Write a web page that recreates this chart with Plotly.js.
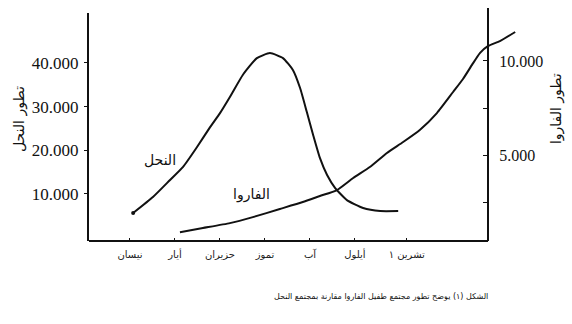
<!DOCTYPE html>
<html>
<head>
<meta charset="utf-8">
<script src="https://cdn.plot.ly/plotly-3.0.1.min.js"></script>
<style>html,body{margin:0;padding:0;background:#fff;}#chart{width:572px;height:324px;}</style>
</head>
<body>
<div id="chart"></div>
<script>
// Month labels (April .. October), placed at month index 0..6
const months = ["نيسان", "أيار", "حزيران", "تموز", "آب", "أيلول", "تشرين ١"];
const monthIdx = [0, 1, 2, 3, 4, 5, 6.15];

// Bee colony (left axis), x in months from April
const beeX = [0.07, 0.51, 0.89, 1.18, 1.49, 1.78, 2.0, 2.22, 2.51, 2.82, 3.11, 3.4, 3.62, 3.78, 3.93, 4.07, 4.22, 4.38, 4.56, 4.82, 5.18, 5.56, 5.96];
const beeY = [5650, 9300, 13200, 16200, 20750, 25300, 28500, 32200, 37300, 41100, 42250, 41100, 38400, 34250, 28750, 23500, 18250, 14350, 11350, 8600, 6800, 6100, 6100];

// Varroa population (right axis)
const varX = [1.11, 1.62, 2.22, 2.73, 3.33, 3.84, 4.22, 4.6, 4.96, 5.33, 5.71, 6.07, 6.44, 6.82, 7.18, 7.4, 7.6, 7.78, 7.96, 8.22, 8.56];
const varY = [900, 1120, 1380, 1700, 2130, 2500, 2820, 3140, 3780, 4360, 5110, 5690, 6330, 7230, 8350, 9040, 9790, 10430, 10800, 11060, 11540];

// Axis ticks
const beeTicks = [10000, 20000, 30000, 40000];
const beeTickText = ["10.000", "20.000", "30.000", "40.000"];
const varTicks = [2500, 5000, 7500, 10000];
const varTickText = ["", "5.000", "", "10.000"];

const RIGHT_AXIS_POS = 0.9258;
const ar = "DejaVu Sans, Noto Sans, sans-serif";
const serif = "Liberation Serif, DejaVu Serif, serif";

const traces = [
  {x: beeX, y: beeY, type: "scatter", mode: "lines", line: {color: "#111", width: 2, shape: "spline", smoothing: 0.5}, yaxis: "y", hoverinfo: "skip"},
  {x: varX, y: varY, type: "scatter", mode: "lines", line: {color: "#111", width: 2, shape: "spline", smoothing: 0.5}, yaxis: "y2", hoverinfo: "skip"},
  {x: beeX.slice(0, 1), y: beeY.slice(0, 1), type: "scatter", mode: "markers", marker: {color: "#111", size: 4}, yaxis: "y", hoverinfo: "skip"}
];

const layout = {
  width: 572, height: 324,
  margin: {l: 89, r: 52, t: 13, b: 83},
  paper_bgcolor: "#fff", plot_bgcolor: "rgba(0,0,0,0)",
  showlegend: false,
  xaxis: {
    range: [-0.911, 8.667], showline: false, showgrid: false, zeroline: false,
    tickvals: monthIdx, ticktext: months, ticks: "inside", ticklen: 3, tickcolor: "#111",
    ticklabelstandoff: 6,
    tickfont: {family: ar, size: 10, color: "#222"}, fixedrange: true
  },
  yaxis: {
    range: [-760, 51430], showline: true, linecolor: "#111", linewidth: 2, mirror: false,
    showgrid: false, zeroline: false, tickvals: beeTicks, ticktext: beeTickText,
    ticks: "outside", ticklen: 3, tickcolor: "#111", ticklabelstandoff: 2,
    tickfont: {family: serif, size: 17, color: "#111"}
  },
  yaxis2: {
    range: [430, 12550], overlaying: "y", side: "right", anchor: "free", position: RIGHT_AXIS_POS,
    showline: true, linecolor: "#111", linewidth: 2, showgrid: false, zeroline: false,
    tickvals: varTicks, ticktext: varTickText, ticks: "inside", ticklen: 4, tickcolor: "#111",
    ticklabelstandoff: 7, tickfont: {family: serif, size: 16, color: "#111"}
  },
  shapes: [
    {type: "line", xref: "paper", yref: "paper", x0: 0, x1: RIGHT_AXIS_POS, y0: 0, y1: 0, line: {color: "#111", width: 2}},
    {type: "line", xref: "paper", yref: "paper", x0: RIGHT_AXIS_POS, x1: RIGHT_AXIS_POS, y0: 0.99, y1: 1.022, line: {color: "#111", width: 2}}
  ],
  annotations: [
    {text: "النحل", xref: "paper", yref: "paper", x: 0.1647, y: 0.355, xanchor: "center", yanchor: "middle", showarrow: false, font: {family: ar, size: 14, color: "#111"}},
    {text: "الفاروا", xref: "paper", yref: "paper", x: 0.378, y: 0.206, xanchor: "center", yanchor: "middle", showarrow: false, font: {family: ar, size: 14, color: "#111"}},
    {text: "تطور النحل", xref: "paper", yref: "paper", x: -0.1624, y: 0.535, xanchor: "center", yanchor: "middle", textangle: -90, showarrow: false, font: {family: ar, size: 14, color: "#111"}},
    {text: "تطور الفاروا", xref: "paper", yref: "paper", x: 1.0835, y: 0.583, xanchor: "center", yanchor: "middle", textangle: -90, showarrow: false, font: {family: ar, size: 14, color: "#111"}},
    {text: "الشكل (١) يوضح تطور مجتمع طفيل الفاروا مقارنة بمجتمع النحل", xref: "paper", yref: "paper", x: 0.6775, y: -0.2456, xanchor: "center", yanchor: "middle", showarrow: false, font: {family: ar, size: 8, color: "#111"}}
  ]
};

Plotly.newPlot("chart", traces, layout, {staticPlot: true, displayModeBar: false});
</script>
</body>
</html>
